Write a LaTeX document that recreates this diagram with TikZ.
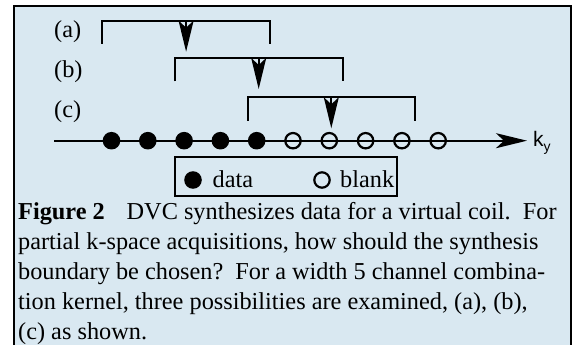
\documentclass[tikz,border=0pt]{standalone}
\usepackage{fontspec}
\setmainfont{Liberation Serif}
\newfontfamily\kyfont{Liberation Sans}
\usetikzlibrary{arrows.meta}
\definecolor{panelblue}{RGB}{217,232,241}

\tikzset{
  dotdata/.style={circle, fill=black, inner sep=0pt, minimum size=17.6pt},
  dotblank/.style={circle, draw=black, line width=2.2pt, inner sep=0pt, minimum size=15.4pt},
  bracket/.style={line width=2pt},
  kernarrow/.style={line width=2pt, -{Stealth[length=31pt,width=15pt,inset=7pt]}},
  lbl/.style={anchor=west, inner sep=0pt, font=\fontsize{24.3}{30}\selectfont},
  capline/.style={anchor=base west, inner sep=0pt, font=\fontsize{24.3}{30}\selectfont},
}

\begin{document}
\begin{tikzpicture}[x=1pt, y=-1pt]
\useasboundingbox (0,0) rectangle (574,345);
\fill[white] (0,0) rectangle (574,345);
% panel
\draw[line width=2.5pt, fill=panelblue] (14,6) rectangle (571,380);

% k_y axis with data / blank samples
\coordinate (axstart) at (54,140.7);
\node[anchor=west, inner sep=6pt] (ky) at (527,143)
  {\kyfont\fontsize{21}{21}\selectfont k\raisebox{-5pt}{\fontsize{14}{14}\selectfont y}};
\draw[line width=2pt, -{Stealth[length=31pt,width=15pt,inset=8pt]}] (axstart) -- (ky.west |- axstart);
\foreach \i in {0,...,4} \node[dotdata] (d\i) at (111.5+36.3*\i,140.7) {};
\foreach \i in {5,...,9} \node[dotblank] (d\i) at (111.5+36.3*\i,140.7) {};

% kernel positions (a), (b), (c)
\foreach \lab/\c/\top/\ly in {a/2/20.7/32, b/4/58/72, c/6/97.3/112}{
  \coordinate (top\lab) at (113.5+36.3*\c, \top);
  \coordinate (tip\lab) at (113.5+36.3*\c, \top+31);
  \draw[bracket] (113.5+36.3*\c-83.8, \top+23.3) |- (top\lab) -| (113.5+36.3*\c+83.8, \top+23.3);
  \draw[kernarrow] (top\lab) -- (tip\lab);
  \node[lbl] (lab\lab) at (54,\ly) {(\lab)};
}

% legend
\node[draw, line width=2.5pt, minimum width=222pt, minimum height=39pt, inner sep=0pt] (legend) at (286,176.5) {};
\node[dotdata] (keydata) at (193,180) {};
\node[capline] (txtdata) at (212.5,188) {data};
\node[dotblank] (keyblank) at (322,180) {};
\node[capline] (txtblank) at (340,188) {blank};

% caption
\node[capline] (cap1) at (18,219) {\textbf{Figure 2}\hspace{0.9em}DVC synthesizes data for a virtual coil.\ \ For};
\node[capline] (cap2) at (18,249) {partial k-space acquisitions, how should the synthesis};
\node[capline] (cap3) at (18,279) {boundary be chosen?\ \ For a width 5 channel combina-};
\node[capline] (cap4) at (18,309) {tion kernel, three possibilities are examined, (a), (b),};
\node[capline] (cap5) at (18,339) {(c) as shown.};
\end{tikzpicture}
\end{document}
